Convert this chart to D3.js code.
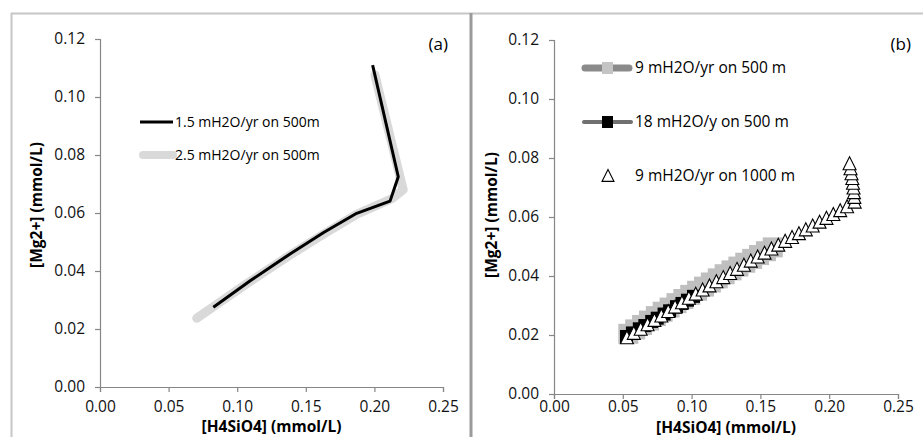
<!DOCTYPE html>
<html><head><meta charset="utf-8">
<script src="https://cdn.jsdelivr.net/npm/d3@7"></script>
<style>body{margin:0;background:#fff}svg{display:block}text{font-family:"Open Sans",sans-serif}</style>
</head><body>
<svg id="c" width="923" height="437"></svg>
<script>
// ---------- data ----------
const xTicks = [0.00, 0.05, 0.10, 0.15, 0.20, 0.25];
const yTicks = [0.00, 0.02, 0.04, 0.06, 0.08, 0.10, 0.12];
const xTitle = "[H4SiO4] (mmol/L)";
const yTitle = "[Mg2+] (mmol/L)";

// panel (a)
const aNames = ["1.5 mH2O/yr on 500m", "2.5 mH2O/yr on 500m"];
const a15x = [0.0826, 0.1100, 0.1385, 0.1630, 0.1871, 0.2114, 0.2174, 0.1987];
const a15y = [0.0275, 0.0368, 0.0459, 0.0533, 0.0599, 0.0641, 0.0725, 0.1110];
const a25x = [0.0705, 0.1050, 0.1385, 0.1640, 0.1870, 0.2130, 0.2210, 0.2004];
const a25y = [0.0237, 0.0350, 0.0455, 0.0530, 0.0595, 0.0650, 0.0680, 0.1076];

// panel (b)
const bNames = ["9 mH2O/yr on 500 m", "18 mH2O/y on 500 m", "9 mH2O/yr on 1000 m"];
const b9x = [0.054,0.059,0.064,0.069,0.074,0.079,0.084,0.089,0.094,0.099,0.104,0.109,0.114,0.119,0.124,0.129,0.134,0.139,0.144,0.149,0.154,0.159];
const b9y = [0.0204,0.0219,0.0234,0.0249,0.0264,0.0279,0.0293,0.0308,0.0322,0.0336,0.0350,0.0364,0.0378,0.0392,0.0406,0.0419,0.0432,0.0445,0.0458,0.0471,0.0484,0.0497];
const b18x = [0.0527,0.057,0.062,0.066,0.071,0.075,0.080,0.084,0.089,0.093,0.097,0.1014];
const b18y = [0.0195,0.0207,0.0221,0.0232,0.0246,0.0257,0.0271,0.0282,0.0296,0.0307,0.0318,0.0331];
const b1000x = [0.053,0.058,0.063,0.068,0.073,0.078,0.083,0.088,0.093,0.098,0.103,0.108,0.113,0.118,0.123,0.128,0.133,0.138,0.143,0.148,0.153,0.158,0.163,0.168,0.173,0.178,0.183,0.188,0.193,0.198,0.203,0.208,0.213,
                0.2185,0.2183,0.2180,0.2177,0.2173,0.2168,0.2162,0.2155,0.2148];
const b1000y = [0.0190,0.0205,0.0219,0.0234,0.0249,0.0264,0.0279,0.0294,0.0309,0.0324,0.0338,0.0352,0.0366,0.0380,0.0394,0.0408,0.0422,0.0436,0.0450,0.0464,0.0477,0.0491,0.0504,0.0517,0.0530,0.0543,0.0556,0.0569,0.0582,0.0595,0.0608,0.0621,0.0634,
                0.0650,0.0666,0.0682,0.0698,0.0714,0.0730,0.0746,0.0763,0.0780];

// ---------- drawing ----------
const svg = d3.select("#c");
const zip = (xs, ys) => xs.map((x, i) => [x, ys[i]]);
const fmt = d3.format(".2f");
const axisCol = "#868686";

// frame
svg.append("line").attr("x1", 11).attr("x2", 923).attr("y1", 13.5).attr("y2", 13.5).attr("stroke", "#c6c6c6").attr("stroke-width", 2);
svg.append("line").attr("x1", 11.5).attr("x2", 11.5).attr("y1", 13).attr("y2", 437).attr("stroke", "#c6c6c6").attr("stroke-width", 2);
svg.append("line").attr("x1", 471).attr("x2", 471).attr("y1", 13).attr("y2", 437).attr("stroke", "#9a9a9a").attr("stroke-width", 3);

function panel(o) {
  const x = d3.scaleLinear().domain([0, 0.25]).range([o.x0, o.x1]);
  const y = d3.scaleLinear().domain([0, 0.12]).range([o.y0, o.y1]);
  const g = svg.append("g");
  const ya = g.append("g").attr("transform", `translate(${o.x0},0)`)
    .call(d3.axisLeft(y).tickValues(yTicks).tickFormat(fmt).tickSize(5).tickPadding(10));
  const xa = g.append("g").attr("transform", `translate(0,${o.y0})`)
    .call(d3.axisBottom(x).tickValues(xTicks).tickFormat(fmt).tickSize(5).tickPadding(o.xpad));
  [ya, xa].forEach(a => {
    a.select(".domain").attr("stroke", axisCol).attr("stroke-width", 1.2);
    a.selectAll(".tick line").attr("stroke", axisCol).attr("stroke-width", 1.2);
    a.selectAll(".tick text").attr("fill", "#111").style("font-size", "15.5px").style("font-family", '"Open Sans",sans-serif');
  });
  g.append("text").attr("x", (o.x0 + o.x1) / 2).attr("y", o.tty).attr("text-anchor", "middle")
    .style("font-size", "15.5px").style("font-weight", "bold").attr("fill", "#000").text(xTitle);
  g.append("text").attr("transform", `translate(${o.ytx},${o.ytc}) rotate(-90)`).attr("text-anchor", "middle")
    .attr("dy", "0.35em").style("font-size", "15.5px").style("font-weight", "bold").attr("fill", "#000").text(yTitle);
  g.append("text").attr("x", o.labx).attr("y", 50).attr("text-anchor", "end").style("font-size", "17px").attr("fill", "#000").text(o.label);
  return {x, y, g};
}

// ---- panel (a)
const A = panel({x0: 100, x1: 443, y0: 387, y1: 39, xpad: 9, tty: 432, ytx: 37, ytc: 205, labx: 448, label: "(a)"});
const lineA = d3.line().x(d => A.x(d[0])).y(d => A.y(d[1]));
A.g.append("path").attr("d", lineA(zip(a25x, a25y))).attr("fill", "none").attr("stroke", "#d9d9d9")
  .attr("stroke-width", 9).attr("stroke-linecap", "round").attr("stroke-linejoin", "round");
A.g.append("path").attr("d", lineA(zip(a15x, a15y))).attr("fill", "none").attr("stroke", "#000")
  .attr("stroke-width", 3).attr("stroke-linejoin", "round");
// legend (a)
[[122, "#000", 3, "butt"], [155, "#d9d9d9", 8, "round"]].forEach((s, i) => {
  A.g.append("line").attr("x1", i ? 143 : 140).attr("x2", 173).attr("y1", s[0]).attr("y2", s[0])
    .attr("stroke", s[1]).attr("stroke-width", s[2]).attr("stroke-linecap", s[3]);
  A.g.append("text").attr("x", 175).attr("y", s[0]).attr("dy", "0.35em").style("font-size", "14px").attr("fill", "#000").text(aNames[i]);
});

// ---- panel (b)
const B = panel({x0: 554, x1: 898, y0: 394, y1: 40, xpad: 2, tty: 433, ytx: 492, ytc: 215, labx: 911, label: "(b)"});
const lineB = d3.line().x(d => B.x(d[0])).y(d => B.y(d[1]));
// series 1
B.g.append("path").attr("d", lineB(zip(b9x, b9y))).attr("fill", "none").attr("stroke", "#808080").attr("stroke-width", 5);
B.g.selectAll(".s1").data(zip(b9x, b9y)).enter().append("rect")
  .attr("x", d => B.x(d[0]) - 10).attr("y", d => B.y(d[1]) - 10).attr("width", 20).attr("height", 20).attr("fill", "#bfbfbf");
// series 2
B.g.append("path").attr("d", lineB(zip(b18x, b18y))).attr("fill", "none").attr("stroke", "#555").attr("stroke-width", 3);
B.g.selectAll(".s2").data(zip(b18x, b18y)).enter().append("rect")
  .attr("x", d => B.x(d[0]) - 6.5).attr("y", d => B.y(d[1]) - 6.5).attr("width", 13).attr("height", 13).attr("fill", "#000");
// series 3 triangles
const tri = (cx, cy, h) => `M${cx},${cy - h * 0.55}L${cx + h * 0.5},${cy + h * 0.45}L${cx - h * 0.5},${cy + h * 0.45}Z`;
B.g.selectAll(".s3").data(zip(b1000x, b1000y)).enter().append("path")
  .attr("d", d => tri(B.x(d[0]), B.y(d[1]), 13)).attr("fill", "#fff").attr("stroke", "#000").attr("stroke-width", 1.1);

// legend (b)
B.g.append("line").attr("x1", 585).attr("x2", 629).attr("y1", 68).attr("y2", 68).attr("stroke", "#8a8a8a").attr("stroke-width", 7).attr("stroke-linecap", "round");
B.g.append("rect").attr("x", 602).attr("y", 62).attr("width", 11).attr("height", 12).attr("fill", "#c4c4c4");
B.g.append("line").attr("x1", 584).attr("x2", 631).attr("y1", 122).attr("y2", 122).attr("stroke", "#707070").attr("stroke-width", 4).attr("stroke-linecap", "round");
B.g.append("rect").attr("x", 602).attr("y", 116).attr("width", 11).attr("height", 12).attr("fill", "#000");
B.g.append("path").attr("d", tri(608, 176, 12)).attr("fill", "#fff").attr("stroke", "#000").attr("stroke-width", 1.1);
[68, 122, 176].forEach((yy, i) => {
  B.g.append("text").attr("x", 635).attr("y", yy).attr("dy", "0.35em").style("font-size", "15.5px").attr("fill", "#000").text(bNames[i]);
});
</script>
</body></html>
